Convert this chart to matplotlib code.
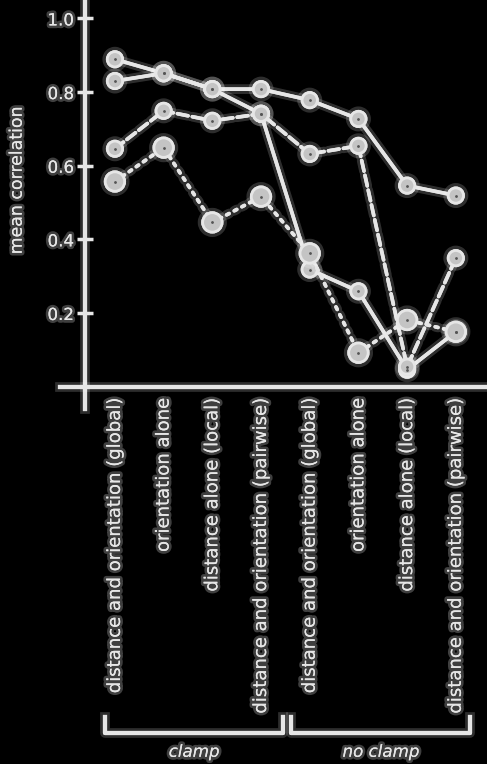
import matplotlib
matplotlib.use("Agg")
import matplotlib.pyplot as plt
import matplotlib.patheffects as pe
from matplotlib.transforms import blended_transform_factory

# data
categories = [
    "distance and orientation (global)",
    "orientation alone",
    "distance alone (local)",
    "distance and orientation (pairwise)",
] * 2
groups = ["clamp", "no clamp"]

series_a = [0.889, 0.851, 0.808, 0.808, 0.778, 0.727, 0.546, 0.519]
series_b = [0.830, 0.851, 0.808, 0.741, 0.318, 0.259, 0.046, 0.149]
series_c = [0.646, 0.749, 0.722, 0.741, 0.632, 0.654, 0.054, 0.349]
series_d = [0.557, 0.649, 0.446, 0.516, 0.362, 0.092, 0.181, 0.149]

y_ticks = [0.2, 0.4, 0.6, 0.8, 1.0]

FG = "#e6e6e6"
glow = [pe.withStroke(linewidth=7, foreground="white", alpha=0.18), pe.Normal()]
text_glow = [pe.withStroke(linewidth=4, foreground="white", alpha=0.25), pe.Normal()]

plt.rcParams["font.family"] = ["DejaVu Sans"]
fig = plt.figure(figsize=(4.87, 7.64), dpi=100, facecolor="black")
ax = fig.add_axes([0.123, 0.465, 0.877, 0.535], facecolor="black")

x = list(range(len(categories)))
styles = [
    (series_a, "-", "o", 11),
    (series_b, "-", "o", 11),
    (series_c, (0, (3, 1.2)), "o", 11),
    (series_d, (0, (0.8, 1.6)), "o", 14),
]
for vals, ls, mk, ms in styles:
    ax.plot(x, vals, color=FG, linestyle=ls, linewidth=2.6, marker=mk,
            markersize=ms, markerfacecolor="#c4c4c4", markeredgecolor=FG,
            markeredgewidth=2, dash_capstyle="round", path_effects=glow,
            clip_on=False, zorder=3)
    ax.plot(x, vals, linestyle="none", marker=".", markersize=2,
            color="#555555", zorder=4, clip_on=False)

ax.set_xlim(-1.13, 7.64)
ax.set_ylim(-0.06, 1.05)

for side in ["top", "right"]:
    ax.spines[side].set_visible(False)
ax.spines["left"].set_position(("data", -0.616))
ax.spines["bottom"].set_position(("data", 0))
for side in ["left", "bottom"]:
    ax.spines[side].set_color(FG)
    ax.spines[side].set_linewidth(3)
    ax.spines[side].set_path_effects(glow)

ax.set_yticks(y_ticks)
ax.set_yticklabels([f"{v:.1f}" for v in y_ticks], color=FG, fontsize=12)
ax.tick_params(axis="y", direction="inout", length=12, width=2.5, colors=FG, pad=2)
for lab in ax.get_yticklabels():
    lab.set_path_effects(text_glow)

ax.set_xticks(x)
ax.set_xticklabels(categories, rotation=90, ha="center", va="top",
                   color=FG, fontsize=13)
ax.tick_params(axis="x", length=0, pad=8, colors=FG)
for lab in ax.get_xticklabels():
    lab.set_path_effects(text_glow)

ax.set_ylabel("mean correlation", color=FG, fontsize=12.5)
ax.yaxis.label.set_path_effects(text_glow)
ax.yaxis.set_label_coords(-0.08, 0.56)

# group brackets under the tick labels
trans = blended_transform_factory(ax.transData, fig.transFigure)
spans = [(-0.2, 3.45), (3.62, 7.3)]
for (x0, x1), name in zip(spans, groups):
    ax.plot([x0, x0, x1, x1], [0.062, 0.041, 0.041, 0.062], color=FG,
            linewidth=3, transform=trans, clip_on=False,
            solid_joinstyle="round", path_effects=glow)
    ax.text((x0 + x1) / 2, 0.016, name, transform=trans, ha="center",
            va="center", color=FG, fontsize=12, style="italic",
            path_effects=text_glow)

fig.savefig("out.png", dpi=100, facecolor="black")
